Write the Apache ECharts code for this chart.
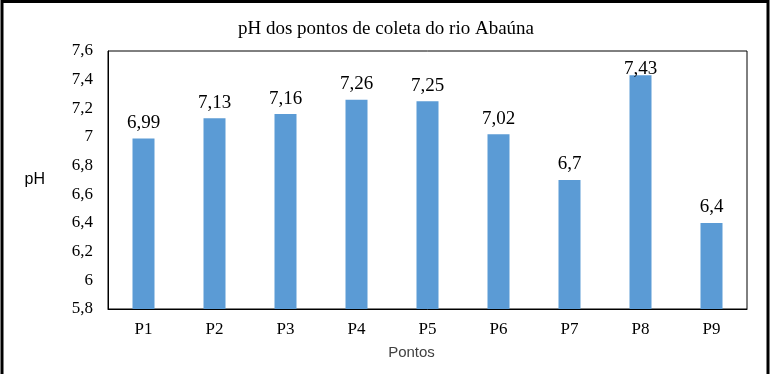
<!DOCTYPE html>
<html>
<head>
<meta charset="utf-8">
<script src="https://cdn.jsdelivr.net/npm/echarts@6/dist/echarts.min.js"></script>
<style>
html,body{margin:0;padding:0;background:#fff;}
#chart{width:772px;height:374px;}
</style>
</head>
<body>
<div id="chart"></div>
<script>
var categories = ['P1','P2','P3','P4','P5','P6','P7','P8','P9'];
var phValues = [6.99, 7.13, 7.16, 7.26, 7.25, 7.02, 6.70, 7.43, 6.40];
var phLabels = ['6,99','7,13','7,16','7,26','7,25','7,02','6,7','7,43','6,4'];
var yTickLabels = {'5.8':'5,8','6':'6','6.2':'6,2','6.4':'6,4','6.6':'6,6','6.8':'6,8','7':'7','7.2':'7,2','7.4':'7,4','7.6':'7,6'};

var yMax = 7.6;
var seriesData = phValues.map(function(v){
  // labels that would cross the top of the plot are tucked in closer to the bar
  if (v > yMax - 0.2) return {value:v, label:{distance:-3}};
  return v;
});

var chart = echarts.init(document.getElementById('chart'), null, {renderer:'canvas'});
var serif = '"Liberation Serif", "Times New Roman", serif';
var sans = '"Liberation Sans", Arial, sans-serif';
chart.setOption({
  animation:false,
  backgroundColor:'#fff',
  title:{
    text:'pH dos pontos de coleta do rio Abaúna',
    left:'center', top:15,
    textStyle:{fontFamily:serif, fontSize:19, fontWeight:'normal', color:'#000'}
  },
  grid:{left:108, right:25, top:51, bottom:65, show:true, borderColor:'#000', borderWidth:1, containLabel:false},
  xAxis:{
    type:'category', data:categories,
    axisLine:{show:true, lineStyle:{color:'#000', width:1}},
    axisTick:{show:false},
    axisLabel:{fontFamily:serif, fontSize:17, color:'#000', margin:12},
    name:'Pontos', nameLocation:'middle', nameGap:36,
    nameTextStyle:{fontFamily:sans, fontSize:15, color:'#404040', padding:[0,32,0,0]}
  },
  yAxis:{
    type:'value', min:5.8, max:yMax, interval:0.2,
    axisLine:{show:true, lineStyle:{color:'#000', width:1}},
    axisTick:{show:false},
    splitLine:{show:false},
    axisLabel:{fontFamily:serif, fontSize:17, color:'#000', margin:15,
      formatter:function(v){var k=String(Math.round(v*10)/10); return yTickLabels[k]!==undefined?yTickLabels[k]:k;}},
    name:'pH', nameLocation:'middle', nameRotate:0, nameGap:63,
    nameTextStyle:{fontFamily:sans, fontSize:16, color:'#000', padding:[8,0,0,0]}
  },
  series:[{
    type:'bar', data:seriesData, barWidth:22,
    itemStyle:{color:'#5B9BD5'},
    label:{show:true, position:'top', distance:6, fontFamily:serif, fontSize:19, color:'#000',
      formatter:function(p){return phLabels[p.dataIndex];}}
  }],
  graphic:[{
    type:'polyline', silent:true,
    shape:{points:[[2,374],[2,1.5],[768,1.5],[768,374]]},
    style:{stroke:'#000', lineWidth:3, fill:null}
  }]
});
</script>
</body>
</html>
